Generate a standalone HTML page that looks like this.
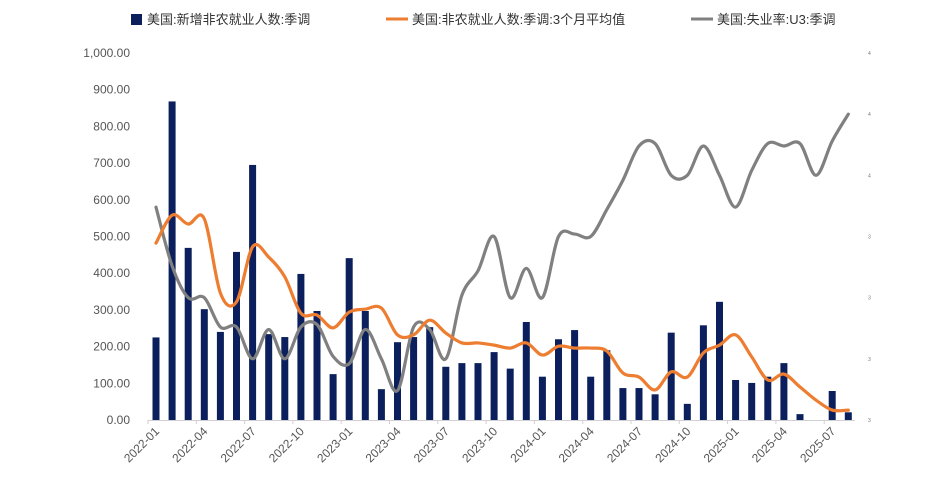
<!DOCTYPE html>
<html><head><meta charset="utf-8">
<style>
html,body{margin:0;padding:0;background:#fff;}
svg{display:block;font-family:"Liberation Sans","Noto Sans CJK SC",sans-serif;}
</style></head>
<body>
<svg id="chart" width="925" height="490" viewBox="0 0 925 490">
  <g>
    <g>
      <rect x="131" y="14" width="11" height="11" fill="#0b1f5c"/>
      <text x="147" y="24" font-size="13" fill="#333">美国:新增非农就业人数:季调</text>
    </g>
    <g>
      <line x1="386" y1="19" x2="408" y2="19" stroke="#ed7d31" stroke-width="3"/>
      <text x="412" y="24" font-size="13" fill="#333">美国:非农就业人数:季调:3个月平均值</text>
    </g>
    <g>
      <line x1="691" y1="19" x2="713" y2="19" stroke="#808080" stroke-width="3"/>
      <text x="717" y="24" font-size="13" fill="#333">美国:失业率:U3:季调</text>
    </g>
  </g>
  <g id="yaxis"></g>
  <g id="yaxis2"></g>
  <g id="bars"></g>
  <g id="lines"></g>
  <g id="xaxis"></g>
</svg>
<script>
const months = ["2022-01","2022-02","2022-03","2022-04","2022-05","2022-06","2022-07","2022-08","2022-09","2022-10","2022-11","2022-12","2023-01","2023-02","2023-03","2023-04","2023-05","2023-06","2023-07","2023-08","2023-09","2023-10","2023-11","2023-12","2024-01","2024-02","2024-03","2024-04","2024-05","2024-06","2024-07","2024-08","2024-09","2024-10","2024-11","2024-12","2025-01","2025-02","2025-03","2025-04","2025-05","2025-06","2025-07","2025-08"];
const payrolls = [225,868,469,302,240,458,695,234,226,398,297,125,441,297,84,212,226,253,145,155,155,185,140,267,118,220,245,118,190,87,87,70,238,44,258,322,109,101,118,155,16,-13,79,21];
const avg3m = [482,558,534,548,346,322,472,444,390,291,286,251,294,302,305,232,232,272,237,210,210,204,196,210,177,201,196,196,188,128,117,82,131,117,183,204,232,172,109,125,90,54,27,27];
const unemployment = [3.87,3.63,3.50,3.50,3.38,3.38,3.25,3.37,3.25,3.38,3.39,3.26,3.23,3.37,3.25,3.12,3.38,3.37,3.25,3.51,3.61,3.75,3.50,3.62,3.50,3.75,3.76,3.75,3.86,3.98,4.12,4.13,4.00,4.00,4.12,4.00,3.87,4.02,4.13,4.12,4.13,4.00,4.14,4.25];
const leftTicks = [0,100,200,300,400,500,600,700,800,900,1000];
const leftTickLabels = ["0.00","100.00","200.00","300.00","400.00","500.00","600.00","700.00","800.00","900.00","1,000.00"];
const rightTicks = [3.0,3.25,3.5,3.75,4.0,4.25,4.5];
const rightTickLabels = ["3","3","3","3","4","4","4"];

const NS="http://www.w3.org/2000/svg";
const X0=156, DX=16.1, Y0=420, YTOP=53;
const x = i => X0 + i*DX;
const yL = v => Y0 - (v/1000)*(Y0-YTOP);
const yR = v => Y0 - ((v-3.0)/1.5)*(Y0-YTOP);
function mk(tag, attrs, parent){const e=document.createElementNS(NS,tag);for(const k in attrs)e.setAttribute(k,attrs[k]);parent.appendChild(e);return e;}

const ya=document.getElementById('yaxis');
leftTicks.forEach((v,i)=>{
  const t=mk('text',{x:130,y:yL(v)+4,'text-anchor':'end','font-size':12,fill:'#555'},ya);
  
  
  t.textContent=leftTickLabels[i];
});
const ya2=document.getElementById('yaxis2');
rightTicks.forEach((v,i)=>{
  const t=mk('text',{x:868,y:yR(v)+2,'font-size':5,fill:'#777'},ya2);
  
  
  t.textContent=rightTickLabels[i];
});

const bg=document.getElementById('bars');
payrolls.forEach((v,i)=>{
  if(v<=0)return;
  const r=mk('rect',{x:x(i)-3.5,y:yL(v),width:7,height:Y0-yL(v),fill:'#0b1f5c'},bg);
  
  
});

function smooth(pts){
  let d='M'+pts[0][0]+','+pts[0][1];
  for(let i=0;i<pts.length-1;i++){
    const p0=pts[i-1]||pts[i],p1=pts[i],p2=pts[i+1],p3=pts[i+2]||p2;
    const c1=[p1[0]+(p2[0]-p0[0])/6,p1[1]+(p2[1]-p0[1])/6];
    const c2=[p2[0]-(p3[0]-p1[0])/6,p2[1]-(p3[1]-p1[1])/6];
    d+=' C'+c1.join(',')+' '+c2.join(',')+' '+p2.join(',');
  }
  return d;
}
const lg=document.getElementById('lines');
const pU=mk('path',{d:smooth(unemployment.map((v,i)=>[x(i),yR(v)])),fill:'none',stroke:'#808080','stroke-width':3.2,'stroke-linecap':'round'},lg);


const pA=mk('path',{d:smooth(avg3m.map((v,i)=>[x(i),yL(v)])),fill:'none',stroke:'#ed7d31','stroke-width':3.2,'stroke-linecap':'round'},lg);



const xa=document.getElementById('xaxis');
const ax=mk('line',{x1:148,y1:Y0+0.5,x2:855,y2:Y0+0.5,stroke:'#d0d0d0','stroke-width':1},xa);


months.forEach((m,i)=>{
  if(i%3!==0)return;
  const tk=mk('line',{x1:x(i)-8,y1:Y0,x2:x(i)-8,y2:Y0+4,stroke:'#d0d0d0'},xa);
  
  
  const tx=x(i)+4, ty=Y0+12;
  const t=mk('text',{x:tx,y:ty,'text-anchor':'end','font-size':12,fill:'#555',transform:'rotate(-45 '+tx+' '+ty+')'},xa);
  
  
  t.textContent=m;
});
</script>
</body></html>
